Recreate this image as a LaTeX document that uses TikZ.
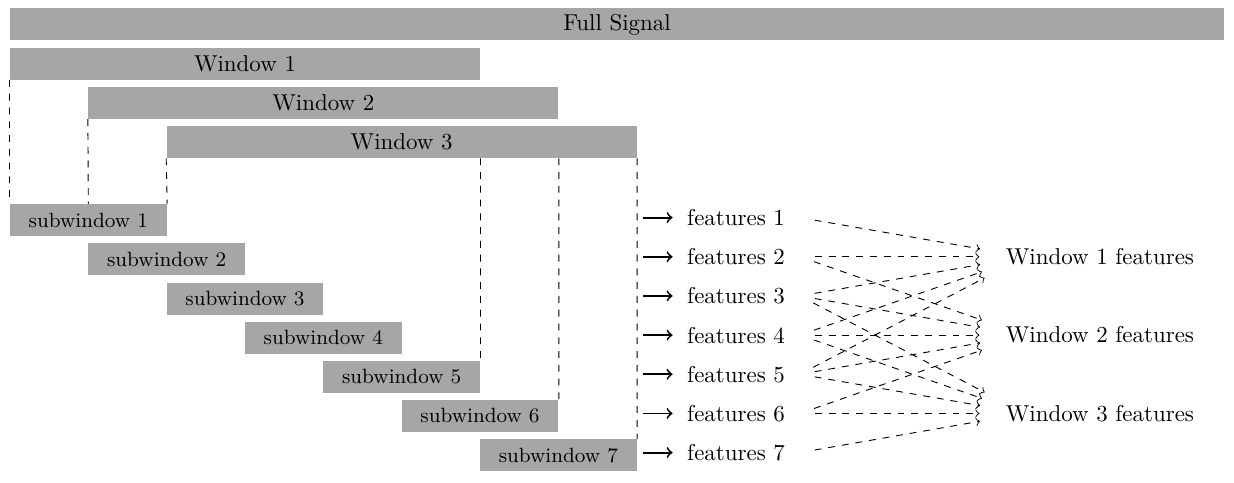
\documentclass[tikz,border=0pt]{standalone}
\usetikzlibrary{arrows}
\begin{document}
\begin{tikzpicture}[
        block/.style={fill=black!35, minimum height=0.49cm, inner sep=0pt},
        win/.style={block, minimum width=7.2cm},
        sub/.style={block, minimum width=2.4cm, font=\small},
        feat/.style={anchor=west},
        guide/.style={-, dashed},
        emit/.style={->, thick, shorten <=0.1cm, shorten >=0.1cm},
        link/.style={->, dashed, shorten <=0.23cm, shorten >=0.7cm}
    ]
        \useasboundingbox (-0.153,0.123) rectangle (18.75,-7.261);
        \node[block, minimum width=18.6cm](S) at (9.3,-0.25) {Full Signal};
        \node[win](W1) at (3.6,-0.85) {Window 1};
        \node[win](W2) at (4.8,-1.45) {Window 2};
        \node[win](W3) at (6.0,-2.05) {Window 3};
        \node[sub](s1) at (1.2,-3.25) {subwindow 1};
        \node[sub](s2) at (2.4,-3.85) {subwindow 2};
        \node[sub](s3) at (3.6,-4.45) {subwindow 3};
        \node[sub](s4) at (4.8,-5.05) {subwindow 4};
        \node[sub](s5) at (6.0,-5.65) {subwindow 5};
        \node[sub](s6) at (7.2,-6.25) {subwindow 6};
        \node[sub](s7) at (8.4,-6.85) {subwindow 7};
        \node[feat](f1) at (10.25,-3.21) {features 1};
        \node[feat](f2) at (10.25,-3.81) {features 2};
        \node[feat](f3) at (10.25,-4.41) {features 3};
        \node[feat](f4) at (10.25,-5.01) {features 4};
        \node[feat](f5) at (10.25,-5.61) {features 5};
        \node[feat](f6) at (10.25,-6.21) {features 6};
        \node[feat](f7) at (10.25,-6.81) {features 7};
        \node[feat](v1) at (15.13,-3.81) {Window 1 features};
        \node[feat](v2) at (15.13,-5.01) {Window 2 features};
        \node[feat](v3) at (15.13,-6.21) {Window 3 features};
        % starts of the solid arrows
        \coordinate (a1) at (9.6,-3.21);
        \coordinate (a2) at (9.6,-3.81);
        \coordinate (a3) at (9.6,-4.41);
        \coordinate (a4) at (9.6,-5.01);
        \coordinate (a5) at (9.6,-5.61);
        \coordinate (a6) at (9.6,-6.21);
        \coordinate (a7) at (9.6,-6.81);
        % ends of the dashed links
        \coordinate (o1) at (12.1,-3.21);
        \coordinate (o2) at (12.1,-3.81);
        \coordinate (o3) at (12.1,-4.41);
        \coordinate (o4) at (12.1,-5.01);
        \coordinate (o5) at (12.1,-5.61);
        \coordinate (o6) at (12.1,-6.21);
        \coordinate (o7) at (12.1,-6.81);
        \coordinate (i1) at (15.55,-3.81);
        \coordinate (i2) at (15.55,-5.01);
        \coordinate (i3) at (15.55,-6.21);
        \path
            (W1.south west)       edge [guide] (s1.north west)
            (W2.south west)       edge [guide] (s1.north)
            (W3.south west)       edge [guide] (s1.north east)
            (W3.south -| W1.east) edge [guide] (s5.north east)
            (W3.south -| W2.east) edge [guide] (s6.north east)
            (W3.south east)       edge [guide] (s7.north east)
            ;
        \path
            (a1) edge [emit] (f1.west)
            (a2) edge [emit] (f2.west)
            (a3) edge [emit] (f3.west)
            (a4) edge [emit] (f4.west)
            (a5) edge [emit] (f5.west)
            (a6) edge [emit] (f6.west)
            (a7) edge [emit] (f7.west)
            ;
        \path
            (o1) edge [link] (i1)
            (o2) edge [link] (i1)
                 edge [link] (i2)
            (o3) edge [link] (i1)
                 edge [link] (i2)
                 edge [link] (i3)
            (o4) edge [link] (i1)
                 edge [link] (i2)
                 edge [link] (i3)
            (o5) edge [link] (i1)
                 edge [link] (i2)
                 edge [link] (i3)
            (o6) edge [link] (i2)
                 edge [link] (i3)
            (o7) edge [link] (i3)
            ;
    \end{tikzpicture}
\end{document}
